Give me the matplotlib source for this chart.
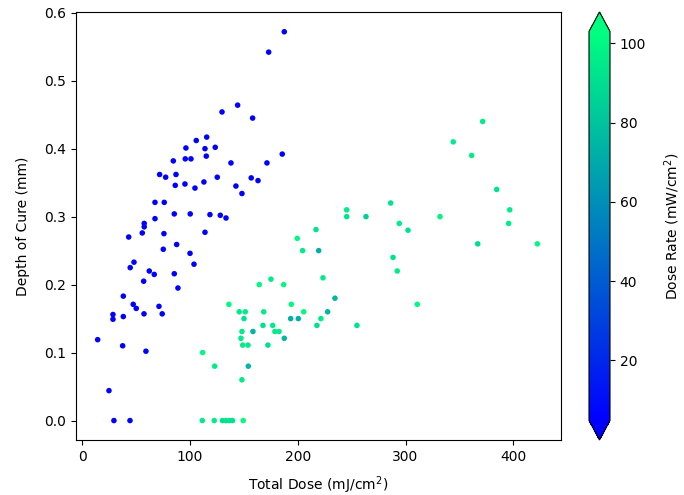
import matplotlib
matplotlib.use("Agg")
import matplotlib.pyplot as plt
import numpy as np

# Blue group (low dose rate)
blue_dose = [187.5, 173.0, 144.2, 129.7, 158.1, 115.5, 105.8, 96.2, 113.9, 123.4,
             115.1, 185.6, 84.5, 95.6, 100.9, 138.0, 171.4, 71.8, 77.4, 87.0,
             86.3, 95.3, 104.6, 112.9, 125.3, 142.6, 148.2, 156.8, 163.1, 67.5,
             76.1, 85.4, 100.2, 118.5, 128.1, 133.4, 67.5, 57.5, 57.5, 55.7,
             43.1, 75.8, 113.9, 87.6, 75.2, 100.0, 103.7, 48.0, 44.5, 62.2,
             66.8, 85.4, 57.0, 88.8, 38.1, 47.3, 50.1, 71.2, 57.3, 74.2,
             28.5, 28.5, 38.1, 14.3, 37.5, 59.1, 24.8, 29.4, 44.3]
blue_depth = [0.572, 0.542, 0.464, 0.454, 0.445, 0.417, 0.412, 0.401, 0.400, 0.402,
              0.389, 0.392, 0.382, 0.385, 0.385, 0.379, 0.379, 0.362, 0.358, 0.362,
              0.346, 0.348, 0.342, 0.351, 0.358, 0.345, 0.334, 0.357, 0.353, 0.321,
              0.321, 0.304, 0.304, 0.303, 0.302, 0.298, 0.297, 0.290, 0.285, 0.276,
              0.270, 0.275, 0.277, 0.259, 0.252, 0.246, 0.230, 0.233, 0.225, 0.220,
              0.215, 0.216, 0.205, 0.195, 0.183, 0.171, 0.165, 0.168, 0.157, 0.157,
              0.156, 0.149, 0.153, 0.119, 0.110, 0.102, 0.044, 0.0, 0.0]
blue_rate = [5.0] * len(blue_dose)

# Green group (high dose rate)
green_dose = [371.6, 344.3, 361.4, 384.6, 396.7, 245.4, 245.4, 263.3, 286.2, 332.0,
              294.2, 302.3, 395.7, 216.9, 199.5, 204.5, 219.4, 367.0, 422.3, 288.4,
              292.3, 223.4, 164.3, 175.1, 186.9, 234.5, 136.1, 194.0, 310.9, 145.7,
              151.3, 168.4, 205.5, 227.7, 150.1, 193.4, 200.5, 221.5, 217.8, 167.7,
              176.7, 254.9, 178.8, 182.6, 148.2, 158.4, 147.3, 187.5, 148.9, 153.8,
              172.3, 111.7, 122.9, 154.1, 148.2,
              111.4, 122.5, 130.1, 133.4, 136.6, 139.4, 149.4]
green_depth = [0.440, 0.410, 0.390, 0.340, 0.310, 0.310, 0.300, 0.300, 0.320, 0.300,
               0.290, 0.280, 0.290, 0.281, 0.268, 0.250, 0.250, 0.260, 0.260, 0.240,
               0.220, 0.210, 0.200, 0.208, 0.200, 0.180, 0.171, 0.171, 0.171, 0.160,
               0.160, 0.160, 0.160, 0.160, 0.150, 0.150, 0.150, 0.150, 0.140, 0.140,
               0.140, 0.140, 0.131, 0.131, 0.131, 0.131, 0.121, 0.121, 0.111, 0.111,
               0.111, 0.100, 0.080, 0.080, 0.060,
               0.0, 0.0, 0.0, 0.0, 0.0, 0.0, 0.0]
green_rate = [95, 95, 95, 92, 95, 95, 92, 85, 92, 98,
              95, 92, 95, 92, 100, 95, 72, 90, 100, 92,
              95, 95, 100, 95, 100, 75, 100, 100, 100, 95,
              95, 95, 100, 75, 92, 72, 72, 95, 92, 92,
              95, 92, 95, 95, 95, 75, 95, 75, 95, 95,
              92, 100, 95, 75, 95,
              95, 95, 92, 92, 92, 92, 103]

x_ticks = [0, 100, 200, 300, 400]
y_ticks = [0.0, 0.1, 0.2, 0.3, 0.4, 0.5, 0.6]
cb_ticks = [20, 40, 60, 80, 100]

dose = np.array(blue_dose + green_dose)
depth = np.array(blue_depth + green_depth)
rate = np.array(blue_rate + green_rate, dtype=float)

fig = plt.figure(figsize=(6.84, 4.95), dpi=100)
ax = fig.add_axes([76 / 684, 1 - 440 / 495, (560.7 - 76) / 684, (440 - 12.3) / 495])
sc = ax.scatter(dose, depth, c=rate, cmap="winter", s=16, linewidths=0,
                vmin=4.8, vmax=103)
ax.set_xlim(-5.8, 444)
ax.set_ylim(-0.0286, 0.6006)
ax.set_xticks(x_ticks)
ax.set_yticks(y_ticks)
ax.set_xlabel("Total Dose (mJ/cm$^2$)", labelpad=8)
ax.set_ylabel("Depth of Cure (mm)", labelpad=10)

cax = fig.add_axes([589 / 684, 1 - 440 / 495, 21 / 684, (440 - 12) / 495])
cb = fig.colorbar(sc, cax=cax, extend="both")
cb.set_label("Dose Rate (mW/cm$^2$)", labelpad=12)
cb.set_ticks(cb_ticks)

fig.savefig("out.png", dpi=100)
